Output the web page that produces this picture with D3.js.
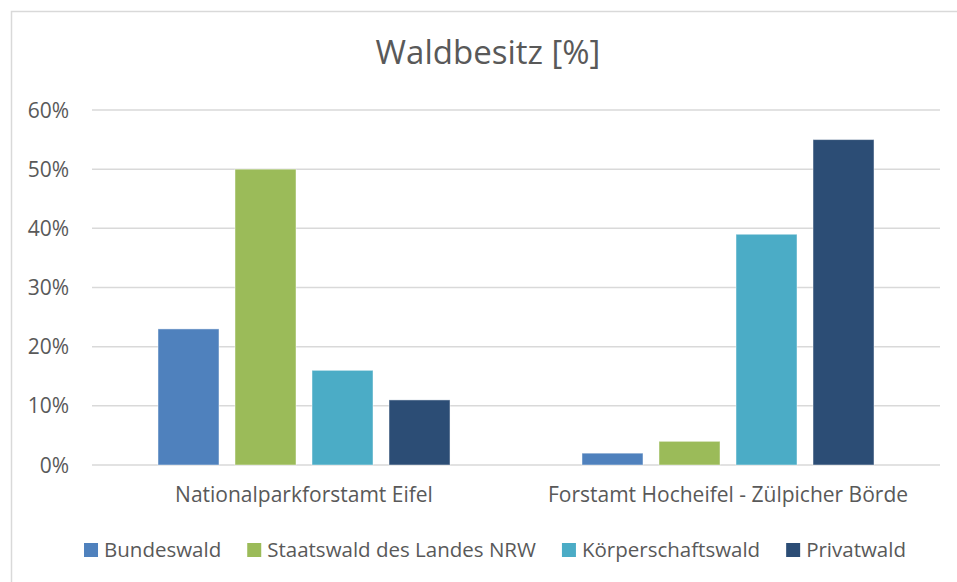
<!DOCTYPE html>
<html>
<head>
<meta charset="utf-8">
<script src="https://cdnjs.cloudflare.com/ajax/libs/d3/7.8.5/d3.min.js"></script>
<style>
  body { margin: 0; background: #fff; }
  svg text { font-family: "Open Sans", sans-serif; fill: #595959; }
</style>
</head>
<body>
<script>
(function(){

//chart data
var categories = ["Nationalparkforstamt Eifel", "Forstamt Hocheifel - Zülpicher Börde"];
var seriesNames = ["Bundeswald", "Staatswald des Landes NRW", "Körperschaftswald", "Privatwald"];
var seriesColors = ["#4f81bd", "#9bbb59", "#4bacc6", "#2c4d75"];
var bundeswald = [23, 2];
var staatswald = [50, 4];
var koerperschaftswald = [16, 39];
var privatwald = [11, 55];
var yTicks = [0, 10, 20, 30, 40, 50, 60];
var chartTitle = "Waldbesitz [%]";

var seriesValues = [bundeswald, staatswald, koerperschaftswald, privatwald];

window.onload = drawChart();

function drawChart(){
    var width = 957, height = 582;

    var svg = d3.select("body")
        .append("svg")
        .attr("width", width)
        .attr("height", height);

    //chart frame (right and bottom run off the picture)
    svg.append("rect")
        .attr("x", 11.5)
        .attr("y", 11.5)
        .attr("width", width + 20)
        .attr("height", height + 20)
        .attr("fill", "none")
        .attr("stroke", "#d9d9d9")
        .attr("stroke-width", 1.5);

    //plot area
    var plot = {left: 92, right: 940, top: 110, bottom: 465};

    var yScale = d3.scaleLinear()
        .domain([0, 60])
        .range([plot.bottom, plot.top]);

    var xScale = d3.scaleBand()
        .domain(categories)
        .range([plot.left, plot.right]);

    var xSub = d3.scaleBand()
        .domain(seriesNames)
        .range([0, xScale.bandwidth()])
        .paddingInner(0.208)
        .paddingOuter(0.857);

    //gridlines
    svg.selectAll(".grid")
        .data(yTicks)
        .enter()
        .append("line")
        .attr("class", "grid")
        .attr("x1", plot.left)
        .attr("x2", plot.right)
        .attr("y1", function(d){ return yScale(d); })
        .attr("y2", function(d){ return yScale(d); })
        .attr("stroke", "#d9d9d9")
        .attr("stroke-width", 1.5);

    //y axis labels
    svg.selectAll(".ylabel")
        .data(yTicks)
        .enter()
        .append("text")
        .attr("class", "ylabel")
        .attr("x", 69)
        .attr("y", function(d){ return yScale(d); })
        .attr("dy", "0.36em")
        .attr("text-anchor", "end")
        .style("font-size", "21px")
        .text(function(d){ return d + "%"; });

    //bars, one group per category
    var rows = [];
    categories.forEach(function(cat, ci){
        seriesNames.forEach(function(name, si){
            rows.push({cat: cat, series: name, value: seriesValues[si][ci], color: seriesColors[si]});
        });
    });

    svg.selectAll(".bar")
        .data(rows)
        .enter()
        .append("rect")
        .attr("class", "bar")
        .attr("x", function(d){ return xScale(d.cat) + xSub(d.series); })
        .attr("width", xSub.bandwidth())
        .attr("y", function(d){ return yScale(d.value); })
        .attr("height", function(d){ return yScale(0) - yScale(d.value); })
        .attr("fill", function(d){ return d.color; })
        .attr("stroke", "rgba(255,255,255,0.45)")
        .attr("stroke-width", 1);

    //category labels
    svg.selectAll(".xlabel")
        .data(categories)
        .enter()
        .append("text")
        .attr("class", "xlabel")
        .attr("x", function(d){ return xScale(d) + xScale.bandwidth() / 2; })
        .attr("y", 502)
        .attr("text-anchor", "middle")
        .style("font-size", "21px")
        .text(function(d){ return d; });

    //title
    svg.append("text")
        .attr("x", 488)
        .attr("y", 64)
        .attr("text-anchor", "middle")
        .style("font-size", "33px")
        .text(chartTitle);

    //legend, laid out from measured text widths
    var legend = svg.append("g");
    var cursor = 0;
    seriesNames.forEach(function(name, i){
        var item = legend.append("g").attr("transform", "translate(" + cursor + ",0)");
        item.append("rect")
            .attr("x", 0)
            .attr("y", 543)
            .attr("width", 14)
            .attr("height", 14)
            .attr("fill", seriesColors[i]);
        var label = item.append("text")
            .attr("x", 20)
            .attr("y", 557)
            .style("font-size", "20.5px")
            .text(name);
        cursor += 20 + label.node().getComputedTextLength() + 26;
    });
    var legendWidth = cursor - 26;
    legend.attr("transform", "translate(" + (495 - legendWidth / 2) + ",0)");
}

})();
</script>
</body>
</html>
